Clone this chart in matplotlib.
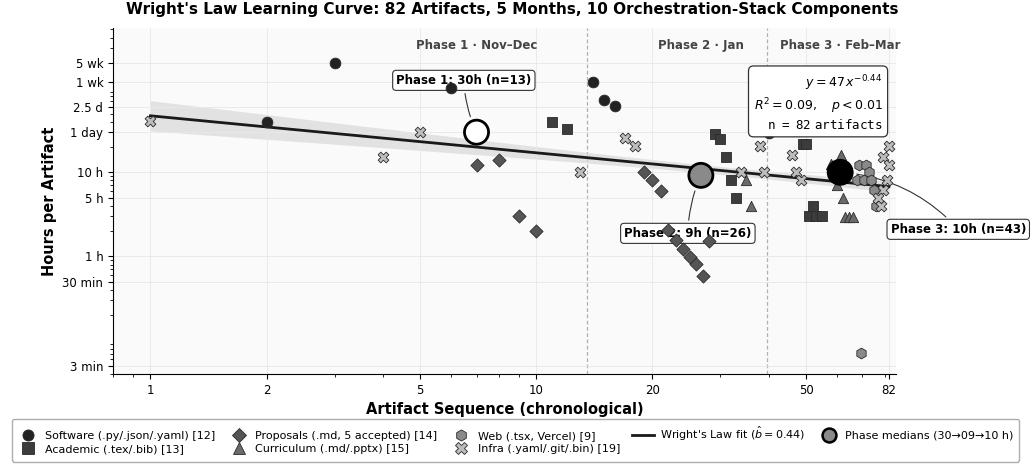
import numpy as np
import matplotlib.pyplot as plt
import matplotlib.transforms as mtransforms
from matplotlib.lines import Line2D
from matplotlib.ticker import FixedLocator, NullFormatter

# artifact sequence number and hours spent, one pair of lists per category
software_x = [2, 3, 6, 14, 15, 16, 40, 59, 60, 61, 62, 63]
software_h = [40, 200, 100, 120, 72, 61, 29, 10.5, 9, 11, 9.5, 10.2]

academic_x = [11, 12, 29, 30, 31, 32, 33, 49, 50, 52, 51, 53, 55]
academic_h = [40, 32.5, 28.4, 24.7, 15.2, 8.0, 5.0, 22, 22, 4.0, 3.0, 3.0, 3.0]

proposal_x = [7, 8, 9, 10, 19, 20, 21, 22, 23, 24, 25, 26, 27, 28]
proposal_h = [12.1, 14.2, 3.0, 2.0, 10, 8.2, 6.0, 2.04, 1.55, 1.23, 0.99, 0.82, 0.59, 1.52]

curriculum_x = [35, 36, 58, 61.5, 60, 62.5, 63, 64.7, 66.3, 59, 60, 61, 62, 63, 61]
curriculum_h = [8.0, 4.0, 12.7, 15.9, 7.0, 5.0, 2.94, 2.94, 2.94, 10, 11, 9, 10.5, 9.5, 10]

web_x = [68.4, 71.6, 72.6, 67.7, 70.5, 73.8, 74.8, 75.8, 69.6]
web_h = [12.3, 12.3, 10, 8, 8, 8, 6.1, 4.0, 0.0706]

infra_x = [1, 4, 5, 13, 17, 18, 34, 38, 39, 46, 47, 48.5, 82, 79, 82, 81, 79, 77, 78]
infra_h = [40.5, 15.2, 30.2, 10, 25.4, 20.4, 10, 20.4, 10, 15.9, 10, 8, 20.4, 15.2, 12.3, 8, 6.1, 5.0, 4.0]

# phases
phase_bounds = [13.5, 39.5]
phase_names = ["Phase 1 · Nov–Dec", "Phase 2 · Jan", "Phase 3 · Feb–Mar"]
phase_med_x = [7, 26.7, 61.3]
phase_med_h = [30, 9.2, 10]
phase_n = [13, 26, 43]
phase_fill = ["white", "#8a8a8a", "black"]

# Wright's law fit y = a * x^-b
fit_a = 47
fit_b = 0.44

x_ticks = [1, 2, 5, 10, 20, 50, 82]
y_ticks = [0.05, 0.5, 1, 5, 10, 30, 60, 120, 200]
y_tick_labels = ["3 min", "30 min", "1 h", "5 h", "10 h", "1 day", "2.5 d", "1 wk", "5 wk"]

categories = [
    ("Software (.py/.json/.yaml) [12]", software_x, software_h, "o", "#222222", 60),
    ("Academic (.tex/.bib) [13]", academic_x, academic_h, "s", "#3c3c3c", 55),
    ("Proposals (.md, 5 accepted) [14]", proposal_x, proposal_h, "D", "#555555", 45),
    ("Curriculum (.md/.pptx) [15]", curriculum_x, curriculum_h, "^", "#6a6a6a", 55),
    ("Web (.tsx, Vercel) [9]", web_x, web_h, "h", "#8a8a8a", 60),
    ("Infra (.yaml/.git/.bin) [19]", infra_x, infra_h, "X", "#bdbdbd", 60),
]

fig = plt.figure(figsize=(10.31, 4.69), dpi=100)
ax = fig.add_axes([0.1096, 0.2026, 0.7594, 0.7377])
ax.set_facecolor("#fafafa")
ax.set_xscale("log")
ax.set_yscale("log")
ax.set_xlim(0.8, 85.5)
ax.set_ylim(0.04, 520)

ax.grid(True, which="major", color="#e8e8e8", lw=0.6, zorder=0)
for s in ["top", "right"]:
    ax.spines[s].set_visible(False)

for b in phase_bounds:
    ax.axvline(b, color="#b0b0b0", lw=0.9, ls=(0, (3, 2)), zorder=1)

trans = mtransforms.blended_transform_factory(ax.transData, ax.transAxes)
for name, px in zip(phase_names, phase_med_x):
    ax.text(px, 0.95, name, transform=trans, ha="center", va="center",
            fontsize=8.5, fontweight="bold", color="#444444")

# fit line and a band from the residual spread in log space
all_x = np.array(software_x + academic_x + proposal_x + curriculum_x + web_x + infra_x, dtype=float)
all_h = np.array(software_h + academic_h + proposal_h + curriculum_h + web_h + infra_h, dtype=float)
lx = np.log10(all_x)
ly = np.log10(all_h)
resid = ly - (np.log10(fit_a) - fit_b * lx)
s = np.sqrt(np.sum(resid ** 2) / (len(lx) - 2))
sxx = np.sum((lx - lx.mean()) ** 2)

xs = np.logspace(0, np.log10(82), 200)
fit = fit_a * xs ** (-fit_b)
se = 0.85 * s * np.sqrt(1 / len(lx) + (np.log10(xs) - lx.mean()) ** 2 / sxx)
ax.fill_between(xs, fit / 10 ** se, fit * 10 ** se, color="#d9d9d9", alpha=0.7, lw=0, zorder=1.5)
ax.plot(xs, fit, color="#1a1a1a", lw=2, zorder=2)

for label, xv, hv, m, c, sz in categories:
    ax.scatter(xv, hv, marker=m, s=sz, c=c, edgecolors="#2a2a2a", linewidths=0.6, zorder=4)

ax.scatter(phase_med_x, phase_med_h, s=300, c=phase_fill, edgecolors="black", linewidths=2, zorder=5)

# phase annotations
ann_pos = [(6.49, 124), (24.7, 1.88), (124, 2.1)]
ann_rad = [0.1, -0.1, 0.2]
for i in range(3):
    ax.annotate(f"Phase {i + 1}: {phase_med_h[i]:.0f}h (n={phase_n[i]})",
                xy=(phase_med_x[i], phase_med_h[i]), xytext=ann_pos[i],
                ha="center", va="center", fontsize=8.5, fontweight="bold",
                bbox=dict(boxstyle="round,pad=0.3", fc="white", ec="#333333", lw=0.8),
                arrowprops=dict(arrowstyle="-", color="#333333", lw=0.8,
                                connectionstyle=f"arc3,rad={ann_rad[i]}", shrinkB=12),
                annotation_clip=False, zorder=3)

ax.text(0.983, 0.868,
        "$y = 47\\,x^{-0.44}$\n$R^2 = 0.09,\\quad p < 0.01$\n$\\mathtt{n\\ =\\ 82\\ artifacts}$",
        transform=ax.transAxes, ha="right", va="top", fontsize=9, linespacing=1.2,
        bbox=dict(boxstyle="round,pad=0.4", fc="white", ec="#333333", lw=0.9), zorder=10)

ax.xaxis.set_major_locator(FixedLocator(x_ticks))
ax.set_xticklabels([str(v) for v in x_ticks])
ax.xaxis.set_minor_formatter(NullFormatter())
ax.yaxis.set_major_locator(FixedLocator(y_ticks))
ax.set_yticklabels(y_tick_labels)
ax.yaxis.set_minor_formatter(NullFormatter())
ax.tick_params(labelsize=8.5)

ax.set_xlabel("Artifact Sequence (chronological)", fontsize=10.5, fontweight="bold")
ax.set_ylabel("Hours per Artifact", fontsize=10.5, fontweight="bold")
fig.suptitle("Wright's Law Learning Curve: 82 Artifacts, 5 Months, 10 Orchestration-Stack Components",
             x=0.497, y=0.979, va="center", fontsize=11, fontweight="bold")

handles = []
for label, xv, hv, m, c, sz in categories:
    handles.append(Line2D([], [], ls="", marker=m, markersize=8 if m != "D" else 7,
                          markerfacecolor=c, markeredgecolor="#2a2a2a", markeredgewidth=0.6, label=label))
handles.append(Line2D([], [], color="#1a1a1a", lw=2, label="Wright's Law fit ($\\hat{b} = 0.44$)"))
handles.append(Line2D([], [], ls="", label=" "))
handles.append(Line2D([], [], ls="", marker="o", markersize=10, markerfacecolor="#8a8a8a",
                      markeredgecolor="black", markeredgewidth=1.8, label="Phase medians (30→09→10 h)"))
fig.legend(handles=handles, loc="lower center", bbox_to_anchor=(0.5, 0.004), ncol=5,
           fontsize=8, frameon=True, edgecolor="#999999", handlelength=2.0,
           columnspacing=1.1, handletextpad=0.5, borderpad=0.5, labelspacing=0.3)

fig.savefig("out.png", dpi=100)
